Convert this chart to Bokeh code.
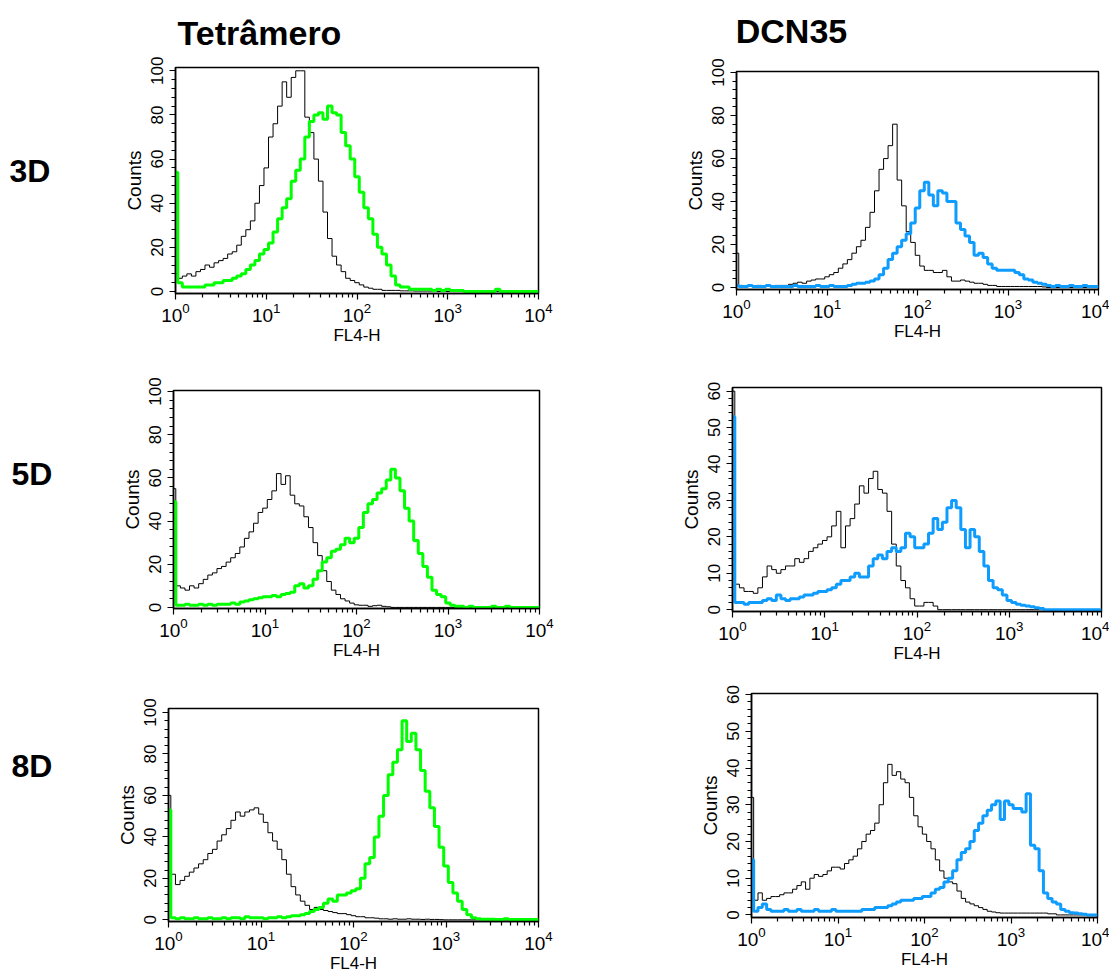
from bokeh.models import Range1d, FixedTicker
from bokeh.plotting import figure
from bokeh.layouts import column, row
from bokeh.core.properties import value
from bokeh.embed import file_html
from bokeh.resources import INLINE

FONT = "Liberation Sans"

# channel positions (log10 of FL4-H), 20 bins per decade
channel_log = [i / 20 for i in range(81)]

col_titles = ["Tetrâmero", "DCN35"]
row_titles = ["3D", "5D", "8D"]

# ---- 3D ----
tet3d_ctrl = [8, 6, 7, 8, 7, 9, 10, 12, 11, 13,
              14, 15, 17, 18, 21, 25, 28, 32, 40, 48,
              56, 70, 76, 84, 95, 88, 97, 100, 100, 79,
              72, 60, 50, 36, 24, 16, 12, 9, 6, 5,
              4, 3, 2, 1.5, 1, 1, 0.5, 0.5, 0.5, 0.5,
              0.3, 0.3, 0.3, 0.2, 0.2, 0.2, 0.2, 0.1, 0, 0,
              0, 0, 0, 0, 0, 0, 0, 0, 0, 0, 0, 0, 0, 0, 0, 0, 0, 0, 0, 0, 0]
tet3d_stain = [54, 4, 2, 2, 2, 2, 2, 3, 3, 4,
               4, 5, 5, 6, 7, 8, 10, 12, 14, 17,
               19, 22, 27, 33, 38, 42, 50, 55, 60, 70,
               77, 80, 81, 78, 84, 81, 80, 72, 66, 60,
               52, 45, 38, 33, 26, 20, 17, 12, 7, 3,
               2, 2, 1, 1, 1, 1, 1, 0.5, 1, 0.5,
               1, 0.5, 0.5, 0.5, 0, 0, 0, 0, 0, 0, 0, 1, 0, 0, 0, 0, 0, 0, 0, 0, 0]
dcn3d_ctrl = [16, 1, 0.5, 1, 0.5, 1, 0.5, 1, 0.5, 1,
              1, 1, 1.5, 2, 2.5, 2, 3, 3.5, 4, 4,
              5, 6, 7, 9, 11, 13, 16, 19, 22, 28,
              35, 45, 55, 60, 66, 76, 50, 38, 26, 21,
              15, 10, 8, 8, 7, 7, 8, 5, 3, 3,
              3.5, 3, 2.5, 2, 2, 1.5, 1, 1, 0.5, 0.5,
              0.5, 0.5, 0.5, 0.5, 0.5, 0.5, 0.5, 0.5, 0.3, 0, 0, 0, 0, 0, 0, 0, 0, 0, 0, 0, 0]
dcn3d_stain = [1, 0.5, 0.5, 1, 0.5, 0.5, 0.5, 1, 0.5, 0.5,
               0.5, 0.5, 0.5, 1, 0.5, 0.5, 0.5, 0.5, 1, 0.5,
               0.5, 1, 0.5, 0.5, 0.5, 1, 1.5, 2, 2, 2.5,
               3, 4, 6, 9, 13, 16, 19, 22, 25, 30,
               37, 45, 49, 43, 38, 45, 44, 40, 40, 30,
               27, 24, 21, 15, 16, 14, 11, 9, 8, 8,
               8, 8, 7, 6, 4, 3.5, 2.5, 2, 1.5, 1, 0.5, 1, 0.5, 0.5, 1, 0.5, 0.5, 1, 0.5, 0.5, 0.5]

# ---- 5D ----
tet5d_ctrl = [55, 10, 9, 8, 10, 9, 11, 13, 15, 16,
              18, 19, 21, 23, 25, 28, 32, 35, 39, 44,
              46, 50, 54, 62, 57, 61, 52, 48, 47, 42,
              37, 30, 24, 17, 12, 8, 6, 4, 3, 2,
              1.2, 1, 1, 0.5, 0.8, 1, 0.5, 0.3, 0, 0,
              0, 0, 0, 0, 0, 0, 0, 0, 0, 0,
              0, 0, 0, 0, 0, 0, 0, 0, 0, 0, 0, 0, 0, 0, 0, 0, 0, 0, 0, 0, 0]
tet5d_stain = [49, 1, 1, 1.5, 1, 1, 1.5, 1, 1.5, 1,
               1.5, 1.5, 1.5, 2, 1.5, 2.5, 3, 3.5, 4, 4.5,
               5, 5, 5.5, 5, 6, 6.5, 7, 10, 11, 9,
               10, 13, 17, 21, 23, 26, 27, 29, 32, 30,
               32, 37, 44, 48, 50, 53, 55, 59, 64, 60,
               54, 46, 40, 31, 25, 19, 14, 8, 6, 5,
               2, 1, 0.5, 0.5, 0, 0.5, 0, 0, 0, 0, 0.5, 0, 0, 0.5, 0, 0, 0, 0, 0, 0, 0]
dcn5d_ctrl = [60, 7, 6, 5, 5, 4.5, 6, 9, 12, 11,
              10, 11, 12, 12, 14, 13, 14, 16, 17, 18,
              19, 20, 23, 27, 17, 23, 25, 29, 34, 32,
              36, 38, 33, 32, 27, 18, 12, 8, 6, 3,
              1, 1, 2, 2, 1, 0, 0, 0, 0, 0,
              0, 0, 0, 0, 0, 0, 0, 0, 0, 0,
              0, 0, 0, 0, 0, 0, 0, 0, 0, 0, 0, 0, 0, 0, 0, 0, 0, 0, 0, 0, 0]
dcn5d_stain = [53, 2, 2, 1.5, 2, 2, 2, 2.5, 3, 2.5,
               4, 3, 2.5, 3, 3, 3.5, 4, 4, 4.5, 5,
               5, 5.5, 6, 7, 8, 8, 9, 10, 9, 9,
               12, 14, 15, 14, 16, 17, 16, 17, 21, 20,
               17, 17, 18, 21, 25, 22, 24, 28, 30, 28,
               22, 17, 22, 20, 16, 12, 8, 6, 5.5, 4,
               2.5, 2, 1.5, 1.2, 1, 0.8, 0.5, 0.3, 0, 0, 0, 0, 0, 0, 0, 0, 0, 0, 0, 0, 0]

# ---- 8D ----
tet8d_ctrl = [60, 22, 17, 19, 21, 23, 25, 27, 29, 32,
              34, 38, 41, 44, 48, 52, 50, 52, 53, 54,
              51, 47, 42, 38, 34, 29, 22, 16, 12, 9,
              7, 5, 6, 5, 4.5, 4, 3.5, 3, 3, 2.5,
              2, 1.5, 1.5, 1, 1, 0.8, 0.5, 0.5, 0.3, 0.5,
              0.3, 0.3, 0.5, 0.3, 0.3, 0.2, 0.3, 0.2, 0.2, 0.1,
              0, 0, 0, 0, 0, 0, 0, 0, 0, 0, 0, 0, 0, 0, 0, 0, 0, 0, 0, 0, 0]
tet8d_stain = [53, 1, 0.5, 1, 0.5, 0.5, 1, 0.5, 0.5, 1,
               0.5, 0.5, 1, 0.5, 1, 1, 0.5, 1.5, 1, 1,
               1, 0.5, 1, 1, 1.5, 1, 1.5, 2, 2, 2.5,
               3, 4, 5, 6, 8, 10, 9, 12, 12, 13,
               14, 15, 20, 27, 30, 40, 50, 60, 70, 76,
               82, 96, 86, 90, 82, 72, 62, 54, 45, 35,
               26, 18, 13, 9, 5, 2.5, 1, 0.5, 0.3, 0.3, 0.3, 0.2, 0.2, 0.5, 0.2, 0.2, 0.2, 0.2, 0.2, 0.2, 0.2]
dcn8d_ctrl = [32, 4, 6, 4, 4.5, 5, 5, 5.5, 6, 6,
              7, 8, 9, 7, 10, 11, 10.5, 11, 12, 13,
              13, 12.5, 14, 15, 16, 18, 20, 22, 23, 25,
              30, 36, 41, 38, 39, 37, 36, 32, 27, 24,
              22, 20, 18, 15, 12, 10, 9, 8.5, 6.5, 4.5,
              3.5, 3, 2.5, 2, 1.5, 1, 0.8, 0.6, 0.5, 0.5,
              0.5, 0.5, 0.5, 0.5, 0.5, 0.5, 0.5, 0.5, 0.5, 0.3, 0.3, 0, 0, 0, 0, 0, 0, 0, 0, 0, 0]
dcn8d_stain = [15, 1, 2, 3, 1.5, 1, 1, 1, 1.5, 1,
               1, 1.5, 1, 1, 1, 1.5, 1, 1, 1, 1.5,
               1, 1, 1, 1, 1, 1, 1.5, 1.5, 1.5, 2,
               2, 2, 2.5, 3, 3.5, 4, 4, 4, 4.5, 4.5,
               5, 5, 6, 7, 7.5, 9, 10, 12, 15, 17,
               18, 20, 23, 25, 27, 28.5, 30, 31, 26, 31,
               30, 29, 29, 28, 33, 19, 18, 12, 6, 4.5, 3.5, 3, 1.5, 1, 0.6, 0.5, 0.3, 0.2, 0, 0, 0]

GREEN = "#00ff00"
BLUE = "#0f9cff"


def make_panel(ctrl, stain, color, ymax, y_range, fw, fh, bl, br, bt, bb):
    assert len(ctrl) == len(channel_log) and len(stain) == len(channel_log)
    p = figure(frame_width=fw, frame_height=fh, x_axis_type="log", title=None,
               x_range=Range1d(1, 10000), y_range=Range1d(*y_range),
               output_backend="svg", toolbar_location=None,
               min_border_left=bl, min_border_right=br,
               min_border_top=bt, min_border_bottom=bb,
               background_fill_color="white", border_fill_color="white")
    xs = [10 ** c for c in channel_log]
    p.step(xs, ctrl, mode="center", line_color="black", line_width=1)
    p.step(xs, stain, mode="center", line_color=color, line_width=3)
    p.grid.visible = False
    p.outline_line_color = "black"
    p.outline_line_width = 1.5
    p.outline_line_alpha = 1.0

    p.xaxis.ticker = FixedTicker(ticks=[1, 10, 100, 1000, 10000],
                                 minor_ticks=[m * 10 ** k for k in range(4) for m in range(2, 10)])
    if ymax == 100:
        p.yaxis.ticker = FixedTicker(ticks=list(range(0, 101, 20)), minor_ticks=list(range(0, 101, 4)))
    else:
        p.yaxis.ticker = FixedTicker(ticks=list(range(0, 61, 10)), minor_ticks=list(range(0, 61, 2)))
    p.xaxis.axis_label = "FL4-H"
    p.yaxis.axis_label = "Counts"
    for ax in (p.xaxis[0], p.yaxis[0]):
        ax.axis_line_color = "black"
        ax.axis_line_width = 1.5
        ax.major_tick_line_color = "black"
        ax.minor_tick_line_color = "black"
        ax.major_tick_line_width = 1.2
        ax.minor_tick_line_width = 1.2
        ax.major_tick_in = 0
        ax.major_tick_out = 6
        ax.minor_tick_in = 0
        ax.minor_tick_out = 4
        ax.major_label_text_font = FONT
        ax.major_label_text_color = "black"
        ax.axis_label_text_font = FONT
        ax.axis_label_text_font_style = "normal"
        ax.axis_label_text_color = "black"
    p.xaxis.major_label_text_font_size = "19px"
    p.xaxis.major_label_standoff = 3
    p.xaxis.axis_label_text_font_size = "17px"
    p.xaxis.axis_label_standoff = 1
    p.yaxis.major_label_text_font_size = "17px"
    p.yaxis.major_label_orientation = "vertical"
    p.yaxis.major_label_standoff = 6
    p.yaxis.axis_label_text_font_size = "19px"
    p.yaxis.axis_label_standoff = 4
    return p


HEADER_H = 52

f1 = make_panel(tet3d_ctrl, tet3d_stain, GREEN, 100, (-0.9, 101.5), 363, 226, 75, 92, 15, 52)
f2 = make_panel(dcn3d_ctrl, dcn3d_stain, BLUE, 100, (-0.9, 100.5), 362, 218, 106, 11, 19, 56)
f3 = make_panel(tet5d_ctrl, tet5d_stain, GREEN, 100, (-0.5, 100.5), 366, 218, 73, 91, 43, 59)
f4 = make_panel(dcn5d_ctrl, dcn5d_stain, BLUE, 60, (-0.5, 61), 369, 224, 102, 8, 40, 56)
f5 = make_panel(tet8d_ctrl, tet8d_stain, GREEN, 100, (-0.8, 101.9), 370, 213, 68, 92, 41, 56)
f6 = make_panel(dcn8d_ctrl, dcn8d_stain, BLUE, 60, (-0.7, 60.3), 346, 224, 121, 12, 26, 60)


def blank(width, height, xr, yr):
    b = figure(width=width, height=height, x_range=Range1d(*xr), y_range=Range1d(*yr),
               title=None, output_backend="svg", toolbar_location=None, min_border=0,
               x_axis_location=None, y_axis_location=None,
               background_fill_color="white", border_fill_color="white")
    b.outline_line_color = None
    b.grid.visible = False
    return b


header = blank(1109, HEADER_H, (0, 1109), (HEADER_H, 0))
header.text(x=[259, 791], y=[32, 30], text=col_titles,
            text_font=value(FONT), text_font_size="34px", text_font_style="bold",
            text_align="center", text_baseline="alphabetic", text_color="black")

labels = blank(100, 975 - HEADER_H, (0, 100), (975, HEADER_H))
labels.text(x=[9, 11, 11], y=[170, 473, 765], text=row_titles,
            text_font=value(FONT), text_font_size="32px", text_font_style="bold",
            text_align="left", text_baseline="alphabetic", text_color="black")

# each panel wrapped on its own so that frames are not aligned across a row
grid = column(row(column(f1), column(f2)),
              row(column(f3), column(f4)),
              row(column(f5), column(f6)))
page = column(header, row(labels, grid))

open("out.html", "w").write(file_html(page, INLINE))
